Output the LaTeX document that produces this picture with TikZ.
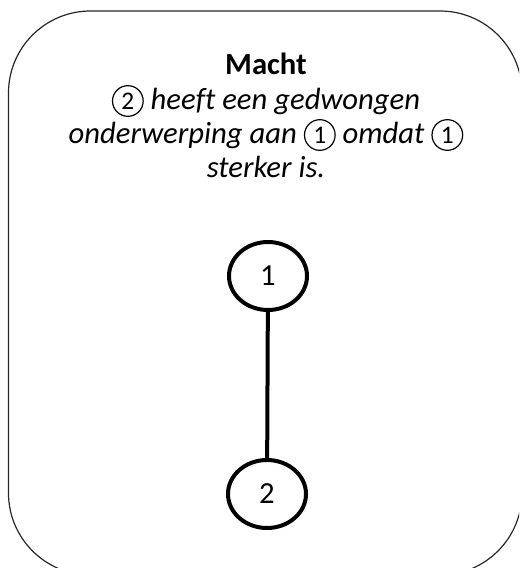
\documentclass[tikz,border=0pt]{standalone}
\usepackage{fontspec}
\setmainfont[Ligatures=CommonOff]{Carlito}
\usetikzlibrary{shapes.geometric}
% circled digit drawn inline with the text line
\newcommand{\circd}[1]{\tikz[x=1pt,y=1pt,baseline=-6pt]{%
  \draw[line width=0.9pt] (0,0) circle[radius=11.5];
  \node[inner sep=0pt, anchor=center, font=\fontsize{19}{21}\selectfont\upshape] (cd) at (0,0) {#1};}}
\tikzset{
  frame/.style={draw=black!85, line width=0.9pt, rounded corners=61.5pt},
  txtline/.style={anchor=base, inner sep=0pt, font=\fontsize{23}{26}\selectfont\itshape},
  person/.style={ellipse, draw=black, line width=3pt, minimum width=58.5pt, minimum height=51pt,
                 inner sep=0pt, font=\fontsize{23}{26}\selectfont},
  bond/.style={draw=black, line width=3pt}
}
\begin{document}
\begin{tikzpicture}[x=0.75pt,y=-0.75pt]
  \useasboundingbox (0,0) rectangle (519,568);
  \begin{scope}
    \clip (0,0) rectangle (519,568);
    \draw[frame] (8.5,11) rectangle (522,575);
  \end{scope}

  \node[txtline, font=\fontsize{23}{26}\selectfont\bfseries] (title) at (266,74) {Macht};
  \node[txtline] (l1) at (266,109) {\circd{2} heeft een gedwongen};
  \node[txtline] (l2) at (266,143) {onderwerping aan \circd{1} omdat \circd{1}};
  \node[txtline] (l3) at (266,177) {sterker is.};

  \node[person] (p1) at (268,276) {1};
  \node[person] (p2) at (267,494) {2};
  \draw[bond] (p1) -- (p2);
\end{tikzpicture}
\end{document}
